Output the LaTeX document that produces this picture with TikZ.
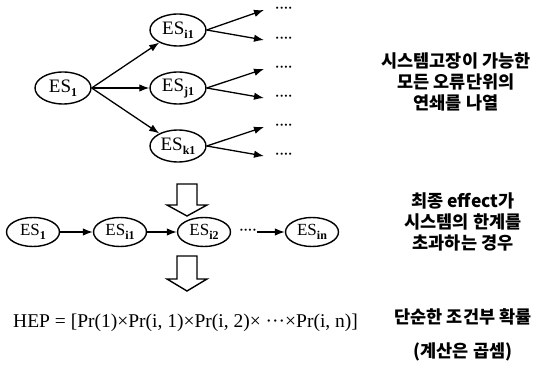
\documentclass[tikz,border=0pt]{standalone}
\usepackage{fontspec}
\setmainfont{Liberation Serif}
\newfontfamily\kr{Noto Sans CJK KR Black}
\usetikzlibrary{shapes.geometric,arrows.meta}
\newcommand\essub[1]{ES\raisebox{-4pt}{\fontsize{12}{12}\selectfont\bfseries #1}}
\tikzset{
  esbig/.style={ellipse, draw, line width=1.4pt, minimum width=56pt, minimum height=32pt, inner sep=0pt, font=\fontsize{19}{19}\selectfont},
  essmall/.style={ellipse, draw, line width=1.4pt, minimum width=53pt, minimum height=29pt, inner sep=0pt, font=\fontsize{17}{17}\selectfont},
  arr/.style={line width=1.3pt, -{Latex[length=10pt,width=7.5pt]}},
  dotsn/.style={inner sep=0pt, font=\fontsize{13}{13}\selectfont\bfseries},
  krtext/.style={align=center, font=\kr\fontsize{17.5}{21}\selectfont},
  hollow/.style={draw, line width=1.4pt, fill=white, line join=miter},
}
\begin{document}
\begin{tikzpicture}[x=1pt,y=-1pt]
\useasboundingbox (0,0) rectangle (546,377);
% top tree
\node[esbig] (e1) at (63,88) {\essub{1}};
\node[esbig] (i1) at (178,30) {\essub{i1}};
\node[esbig] (j1) at (178,88) {\essub{j1}};
\node[esbig] (k1) at (178,146) {\essub{k1}};
\draw[arr] (e1.east) -- (i1);
\draw[arr] (e1.east) -- (j1.west);
\draw[arr] (e1.east) -- (k1);
\foreach \n/\ya/\yb in {i1/10/40, j1/69/98, k1/127/156} {
  \coordinate (\n a) at (264,\ya);
  \coordinate (\n b) at (264,\yb);
  \draw[arr] (\n.east) -- (\n a);
  \draw[arr] (\n.east) -- (\n b);
  \node[dotsn, anchor=west] (\n da) at (275,\ya) {····};
  \node[dotsn, anchor=west] (\n db) at (275,\yb) {····};
}
\node[krtext] (t1) at (456,82) {시스템고장이 가능한\\모든 오류단위의\\연쇄를 나열};
% hollow arrow 1
\draw[hollow] (177,184) -- (197,184) -- (197,205) -- (207,205) -- (187,216) -- (167,205) -- (177,205) -- cycle;
% row 2
\node[essmall] (r1) at (33,232) {\essub{1}};
\node[essmall] (r2) at (120,232) {\essub{i1}};
\node[essmall] (r3) at (204,232) {\essub{i2}};
\node[dotsn] (rd) at (248,232) {····};
\node[essmall] (r4) at (312,232) {\essub{in}};
\draw[arr] (r1) -- (r2);
\draw[arr] (r2) -- (r3);
\draw[arr] (rd.east) -- (r4.west);
\node[krtext] (t2) at (463,222) {최종 effect가\\시스템의 한계를\\초과하는 경우};
% hollow arrow 2
\draw[hollow] (177,256) -- (197,256) -- (197,279) -- (207,279) -- (187,291) -- (167,279) -- (177,279) -- cycle;
% formula
\node[font=\fontsize{19.5}{20}\selectfont, anchor=west, inner sep=0pt] (hep) at (13,323) {HEP = [Pr(1)×Pr(i, 1)×Pr(i, 2)× ···×Pr(i, n)]};
\node[krtext, font=\kr\fontsize{17.5}{34}\selectfont] (t3) at (463,335) {단순한 조건부 확률\\(계산은 곱셈)};
\end{tikzpicture}
\end{document}
